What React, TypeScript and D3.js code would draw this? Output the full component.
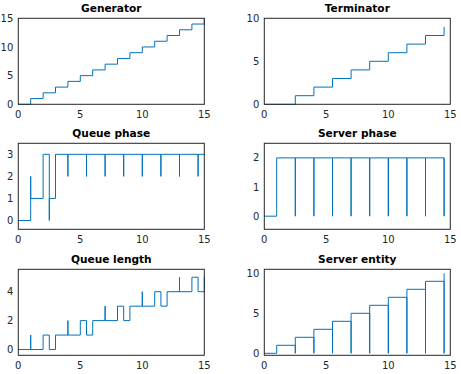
import * as d3 from "d3";

// step data: time of each event and the value after it
const genT = [0, 1, 2, 3, 4, 5, 6, 7, 8, 9, 10, 11, 12, 13, 14, 15];
const genV = [0, 1, 2, 3, 4, 5, 6, 7, 8, 9, 10, 11, 12, 13, 14, 15];

const termT = [0, 2.5, 4, 5.5, 7, 8.5, 10, 11.5, 13, 14.5];
const termV = [0, 1, 2, 3, 4, 5, 6, 7, 8, 9];

const qPhaseT = [0, 1, 1, 2, 2.5, 2.5, 3, 4, 4, 5.5, 5.5, 7, 7, 8.5, 8.5, 10, 10, 11.5, 11.5, 13, 13, 14.5, 14.5, 15];
const qPhaseV = [0, 2, 1, 3, 0, 1, 3, 2, 3, 2, 3, 2, 3, 2, 3, 2, 3, 2, 3, 2, 3, 2, 3, 3];

const sPhaseT = [0, 1, 2.5, 2.5, 4, 4, 5.5, 5.5, 7, 7, 8.5, 8.5, 10, 10, 11.5, 11.5, 13, 13, 14.5, 14.5];
const sPhaseV = [0, 2, 0, 2, 0, 2, 0, 2, 0, 2, 0, 2, 0, 2, 0, 2, 0, 2, 0, 2];

const qLenT = [0, 1, 1, 2, 2.5, 3, 4, 4, 5, 5.5, 6, 7, 7, 8, 8.5, 9, 10, 10, 11, 11.5, 12, 13, 13, 14, 14.5, 15];
const qLenV = [0, 1, 0, 1, 0, 1, 2, 1, 2, 1, 2, 3, 2, 3, 2, 3, 4, 3, 4, 3, 4, 5, 4, 5, 4, 5];

const sEntT = [0, 1, 2.5, 2.5, 4, 4, 5.5, 5.5, 7, 7, 8.5, 8.5, 10, 10, 11.5, 11.5, 13, 13, 14.5, 14.5];
const sEntV = [0, 1, 0, 2, 0, 3, 0, 4, 0, 5, 0, 6, 0, 7, 0, 8, 0, 9, 0, 10];

const xTicks = [0, 5, 10, 15];

const panels = [
  { title: "Generator", t: genT, v: genV, y: [0, 15], yTicks: [0, 5, 10, 15] },
  { title: "Terminator", t: termT, v: termV, y: [0, 10], yTicks: [0, 5, 10] },
  { title: "Queue phase", t: qPhaseT, v: qPhaseV, y: [-0.4, 3.5], yTicks: [0, 1, 2, 3] },
  { title: "Server phase", t: sPhaseT, v: sPhaseV, y: [-0.45, 2.5], yTicks: [0, 1, 2] },
  { title: "Queue length", t: qLenT, v: qLenV, y: [-0.4, 5.55], yTicks: [0, 2, 4] },
  { title: "Server entity", t: sEntT, v: sEntV, y: [-0.25, 10.5], yTicks: [0, 5, 10] },
];

const colLeft = [18.3, 264.3];
const rowTop = [18.3, 143.3, 269.3];
const W = 186;
const H = 86;
const ink = "#262626";

function Panel({ p, left, top }: any) {
  const x = d3.scaleLinear([0, 15], [left, left + W]);
  const y = d3.scaleLinear(p.y, [top + H, top]);
  const pts: [number, number][] = p.t.map((t: number, i: number) => [t, p.v[i]]);
  const line = d3.line<[number, number]>()
    .x(d => x(d[0]))
    .y(d => y(d[1]))
    .curve(d3.curveStepAfter);

  return (
    <g>
      <text x={left + W / 2} y={top - 6.4} textAnchor="middle" fontWeight="bold" fontSize={10.6} fill="#000">
        {p.title}
      </text>
      <path d={line(pts) ?? ""} fill="none" stroke="#0072BD" strokeWidth={1} />
      <rect x={left} y={top} width={W} height={H} fill="none" stroke={ink} strokeWidth={1} />
      {xTicks.map(t => (
        <text key={"x" + t} x={x(t)} y={top + H + 13.5} textAnchor="middle" fontSize={10} fill={ink}>{t}</text>
      ))}
      {p.yTicks.map((t: number) => (
        <text key={"y" + t} x={left - 5} y={y(t) + 3.6} textAnchor="end" fontSize={10} fill={ink}>{t}</text>
      ))}
    </g>
  );
}

export default function App() {
  return (
    <svg
      width={461}
      height={374}
      style={{ position: "absolute", left: 0, top: 0, background: "#fff" }}
      fontFamily="'DejaVu Sans', sans-serif"
    >
      {panels.map((p, i) => (
        <Panel key={p.title} p={p} left={colLeft[i % 2]} top={rowTop[Math.floor(i / 2)]} />
      ))}
    </svg>
  );
}
